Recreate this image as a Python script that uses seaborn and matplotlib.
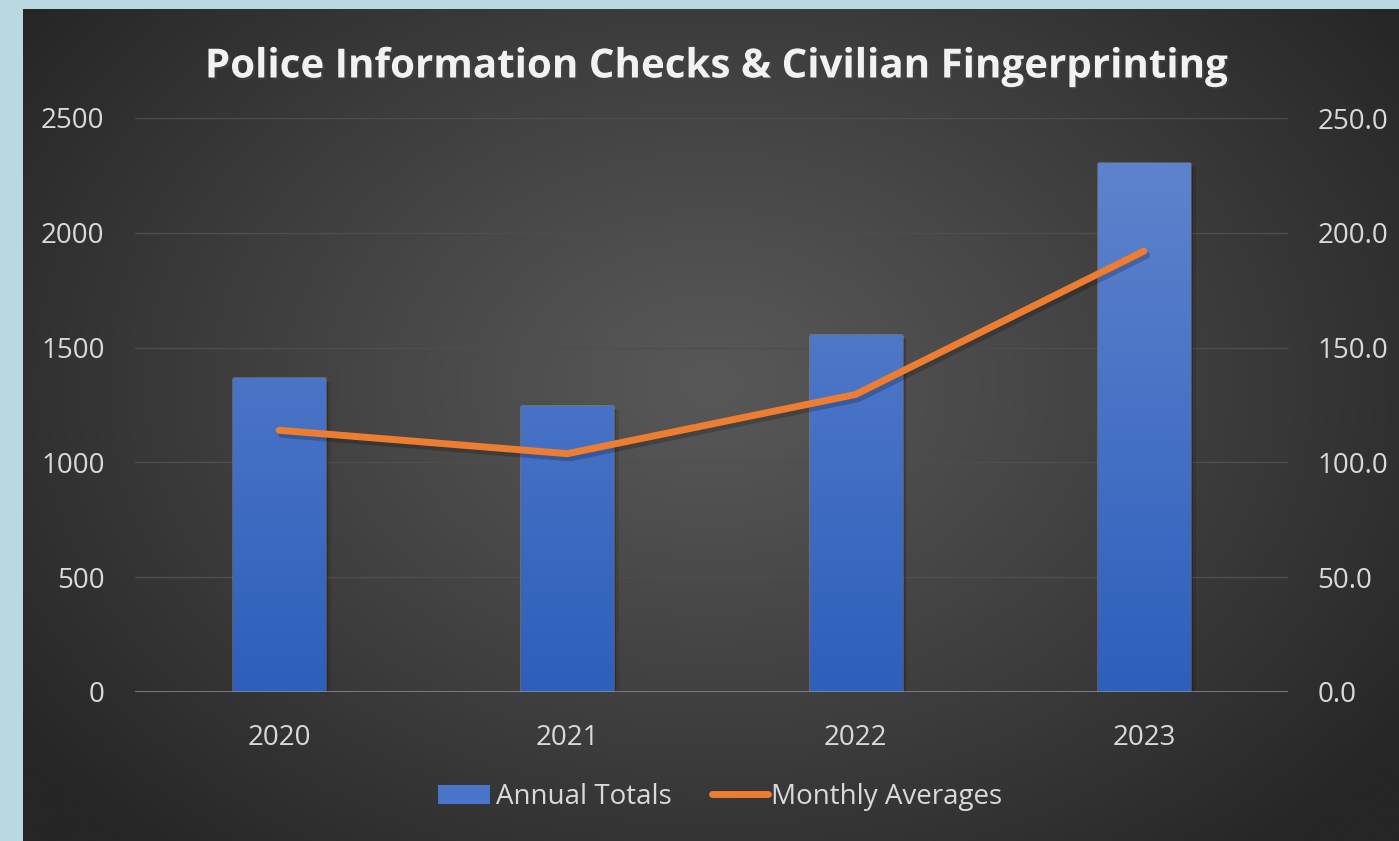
import numpy as np
import pandas as pd
import matplotlib
matplotlib.use("Agg")
import matplotlib.pyplot as plt
import matplotlib.patheffects as pe
from matplotlib.patches import Rectangle, Patch
from matplotlib.lines import Line2D
from matplotlib.legend_handler import HandlerPatch
from matplotlib.colors import LinearSegmentedColormap
import seaborn as sns

# Data
years = ["2020", "2021", "2022", "2023"]
annual_totals = [1368, 1246, 1555, 2304]
monthly_averages = [114.0, 103.8, 129.6, 192.0]
left_ticks = [0, 500, 1000, 1500, 2000, 2500]
right_ticks = [0, 50, 100, 150, 200, 250]

TITLE = "Police Information Checks & Civilian Fingerprinting"
TEXT_COLOR = "#d9d9d9"
ORANGE = "#ed7d31"
BLUE_TOP = "#6286cf"
BLUE_BOTTOM = "#2e5fbc"

sns.set_style("dark")
plt.rcParams["font.family"] = ["Open Sans", "DejaVu Sans"]

W, H = 1399, 841
fig = plt.figure(figsize=(W / 100, H / 100), dpi=100)
fig.patch.set_facecolor("#b8d8e2")

# Dark panel with a soft radial glow
bg = fig.add_axes([23 / W, 0, 1 - 23 / W, (H - 9) / H], zorder=-10)
bg.set_axis_off()
ny, nx = 400, 700
yy, xx = np.mgrid[0:1:ny * 1j, 0:1:nx * 1j]
d = np.sqrt(((xx - 0.5) / 0.62) ** 2 + ((yy - 0.45) / 0.75) ** 2)
d = np.clip(d, 0, 1) ** 1.1
glow = LinearSegmentedColormap.from_list("glow", ["#585858", "#262626"])
bg.imshow(d, cmap=glow, vmin=0, vmax=1, aspect="auto", extent=[0, 1, 1, 0],
          interpolation="bilinear")
bg.set_xlim(0, 1)
bg.set_ylim(1, 0)

# Main axes
ax = fig.add_axes([135 / W, 149 / H, 1153 / W, 574 / H])
ax.set_facecolor("none")
df = pd.DataFrame({"year": years, "total": annual_totals, "avg": monthly_averages})

sns.barplot(data=df, x="year", y="total", ax=ax, width=0.32, color=BLUE_BOTTOM,
            saturation=1, zorder=3)
ax.set_xlim(-0.5, len(years) - 0.5)
ax.set_ylim(0, 2500)

# Vertical gradient fill inside each bar, with a soft shadow
grad_cmap = LinearSegmentedColormap.from_list("bar", [BLUE_BOTTOM, BLUE_TOP])
for p in ax.patches:
    p.set_path_effects([pe.SimplePatchShadow(offset=(2, -2), alpha=0.18,
                                             shadow_rgbFace="black"),
                        pe.SimplePatchShadow(offset=(4, -3), alpha=0.10,
                                             shadow_rgbFace="black"),
                        pe.Normal()])
    x0 = p.get_x()
    w = p.get_width()
    img = ax.imshow(np.linspace(0, 1, 256).reshape(-1, 1), cmap=grad_cmap,
                    extent=[x0, x0 + w, 0, 2500], origin="lower", aspect="auto",
                    zorder=3.5, interpolation="bilinear")
    img.set_clip_path(p)
ax.set_xlim(-0.5, len(years) - 0.5)
ax.set_ylim(0, 2500)

ax.set_yticks(left_ticks)
ax.set_yticklabels([str(t) for t in left_ticks])
ax.grid(axis="y", color="#4e4e4e", linewidth=1.0, zorder=0)
ax.grid(axis="x", visible=False)
ax.set_axisbelow(True)
ax.axhline(0, color="#8f8f8f", linewidth=1.8, zorder=4)
for s in ax.spines.values():
    s.set_visible(False)
ax.tick_params(axis="both", length=0, labelsize=20, colors=TEXT_COLOR)
ax.tick_params(axis="y", pad=22)
ax.tick_params(axis="x", pad=23)
ax.set_xlabel("")
ax.set_ylabel("")

# Secondary axis for the monthly averages
ax2 = ax.twinx()
ax2.set_facecolor("none")
sns.lineplot(x=np.arange(len(years)), y=df["avg"], ax=ax2, color=ORANGE,
             linewidth=5, zorder=5, solid_capstyle="round", solid_joinstyle="miter")
for ln in ax2.lines:
    ln.set_path_effects([pe.SimpleLineShadow(offset=(2, -3), alpha=0.2,
                                             shadow_color="black"), pe.Normal()])
ax2.set_ylim(0, 250)
ax2.set_yticks(right_ticks)
ax2.set_yticklabels([f"{t:.1f}" for t in right_ticks])
ax2.set_ylabel("")
ax2.grid(False)
for s in ax2.spines.values():
    s.set_visible(False)
ax2.tick_params(axis="y", length=0, labelsize=20, colors=TEXT_COLOR, pad=21)
ax.set_xlim(-0.5, len(years) - 0.5)

# Title
fig.text(715 / W, 1 - 67 / H, TITLE, ha="center", va="center", fontsize=29,
         fontweight="bold", color="#f2f2f2",
         path_effects=[pe.SimplePatchShadow(offset=(1.5, -1.5), alpha=0.5),
                       pe.Normal()])


class WideRect(HandlerPatch):
    def create_artists(self, legend, orig_handle, xdescent, ydescent, width,
                       height, fontsize, trans):
        w = width * 0.94
        r = Rectangle((-xdescent, -ydescent + height * 0.02), w,
                      height * 0.96, facecolor="#4a74c9", edgecolor="none",
                      transform=trans)
        return [r]


handles = [Patch(facecolor="#4a74c9", label="Annual Totals"),
           Line2D([0], [0], color=ORANGE, linewidth=5, solid_capstyle="round",
                  label="Monthly Averages")]
leg = fig.legend(handles=handles, loc="center", bbox_to_anchor=(720 / W, 1 - 797 / H),
                 ncol=2, frameon=False, fontsize=20, labelcolor=TEXT_COLOR,
                 handlelength=2.0, handletextpad=0.1, columnspacing=1.45,
                 handler_map={Patch: WideRect()})

fig.savefig("out.png", dpi=100, facecolor=fig.get_facecolor())
